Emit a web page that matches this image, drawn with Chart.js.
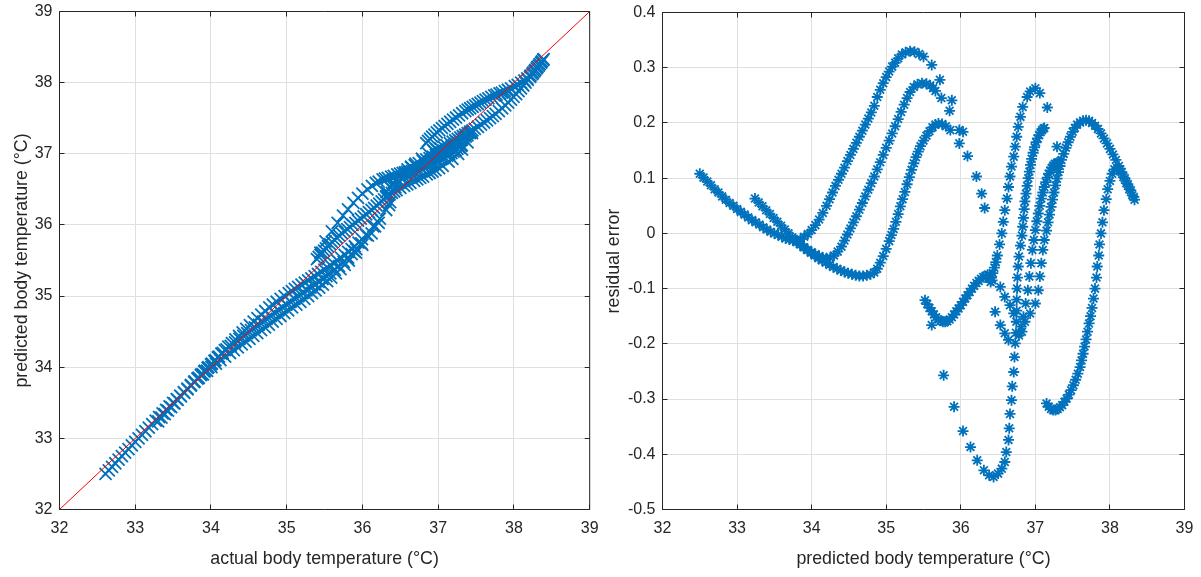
<!DOCTYPE html>
<html>
<head>
<meta charset="utf-8">
<title>body temperature model</title>
<script src="https://cdn.jsdelivr.net/npm/chart.js@4.4.1/dist/chart.umd.min.js"></script>
<style>
  body { margin: 0; background: #fff; }
  #wrap { position: relative; width: 1201px; height: 577px; }
  canvas { position: absolute; top: 0; display: block; }
  #fit { left: 0; }
  #resid { left: 600px; }
</style>
</head>
<body>
<div id="wrap">
  <canvas id="fit" width="600" height="577"></canvas>
  <canvas id="resid" width="601" height="577"></canvas>
</div>
<script>
// tick values for both panels
const tempTicks = [32, 33, 34, 35, 36, 37, 38, 39];
const residTicks = [-0.5, -0.4, -0.3, -0.2, -0.1, 0, 0.1, 0.2, 0.3, 0.4];
const idealLine = [32, 39];

// each run: predicted temperature and its residual (actual - predicted)
const aPred = [32.50,32.55,32.60,32.65,32.70,32.75,32.80,32.85,32.90,32.95,33.00,33.05,33.10,33.15,33.20,33.25,33.30,33.35,33.40,33.45,33.50,33.55,33.60,33.65,33.70,33.75,33.80,33.85,33.90,33.95,34.00,34.05,34.10,34.15,34.20,34.25,34.30,34.35,34.40,34.44,34.48,34.52,34.56,34.60,34.64,34.68,34.72,34.76,34.80,34.84,34.88,34.92,34.96,35.00,35.04,35.08,35.12,35.16,35.20,35.24,35.28,35.32,35.37,35.42,35.48,35.54,35.59,35.63,35.66];
const aRes = [0.108,0.101,0.094,0.087,0.080,0.074,0.067,0.061,0.055,0.050,0.044,0.039,0.034,0.029,0.024,0.020,0.016,0.011,0.007,0.003,0.000,-0.003,-0.006,-0.009,-0.011,-0.013,-0.016,-0.020,-0.025,-0.030,-0.034,-0.038,-0.041,-0.044,-0.045,-0.044,-0.040,-0.033,-0.024,-0.013,-0.002,0.009,0.020,0.031,0.043,0.055,0.067,0.079,0.091,0.103,0.116,0.129,0.142,0.155,0.168,0.181,0.194,0.207,0.220,0.233,0.245,0.256,0.265,0.270,0.272,0.271,0.268,0.263,0.258];

const bPred = [33.24,33.29,33.34,33.39,33.44,33.49,33.54,33.59,33.64,33.69,33.74,33.79,33.84,33.89,33.94,33.99,34.04,34.09,34.14,34.19,34.24,34.29,34.34,34.39,34.44,34.49,34.54,34.59,34.64,34.69,34.74,34.79,34.84,34.88,34.92,34.96,35.00,35.04,35.07,35.10,35.13,35.16,35.19,35.22,35.25,35.28,35.31,35.34,35.37,35.40,35.43,35.46,35.50,35.54,35.58,35.62,35.66,35.70,35.75,35.80,35.86];
const bRes = [0.063,0.056,0.049,0.042,0.035,0.028,0.021,0.014,0.007,0.000,-0.007,-0.013,-0.019,-0.025,-0.030,-0.035,-0.040,-0.045,-0.049,-0.053,-0.057,-0.061,-0.064,-0.067,-0.070,-0.072,-0.074,-0.076,-0.077,-0.077,-0.076,-0.074,-0.071,-0.064,-0.053,-0.041,-0.028,-0.014,-0.003,0.008,0.021,0.035,0.049,0.062,0.075,0.089,0.102,0.115,0.127,0.138,0.148,0.158,0.168,0.177,0.185,0.192,0.197,0.199,0.198,0.194,0.187];

const cPred = [33.85,33.90,33.95,34.00,34.05,34.10,34.15,34.20,34.24,34.28,34.32,34.36,34.40,34.44,34.48,34.52,34.56,34.60,34.64,34.68,34.72,34.76,34.80,34.84,34.88,34.92,34.96,35.00,35.04,35.08,35.12,35.16,35.21,35.26,35.32,35.38,35.44,35.50];
const cRes = [-0.010,-0.006,-0.001,0.006,0.015,0.025,0.037,0.050,0.062,0.074,0.086,0.097,0.108,0.119,0.131,0.142,0.153,0.164,0.175,0.186,0.197,0.208,0.219,0.231,0.247,0.260,0.272,0.283,0.293,0.302,0.309,0.317,0.324,0.328,0.330,0.329,0.325,0.320];

// fast fall after the warm peaks
const tailPred = [35.61,35.72,35.74,35.88,35.85,35.98,36.03,35.98,36.09,36.21,36.28,36.32];
const tailRes = [0.305,0.278,0.245,0.241,0.222,0.187,0.184,0.163,0.140,0.103,0.072,0.046];

const sPred = [35.52,35.55,35.58,35.61,35.64,35.67,35.70,35.73,35.76,35.79,35.82,35.85,35.88,35.91,35.94,35.97,36.00,36.03,36.06,36.09,36.12,36.15,36.18,36.21,36.24,36.27,36.30,36.33,36.36,36.39,36.41,36.42,36.40,36.43,36.45,36.47,36.49,36.52,36.55,36.57,36.59,36.62,36.64,36.66,36.68,36.71,36.73,36.75,36.77,36.80,36.83,36.89,36.93,37.00,37.06,37.16];
const sRes = [-0.121,-0.128,-0.135,-0.141,-0.147,-0.152,-0.156,-0.158,-0.160,-0.160,-0.159,-0.156,-0.152,-0.147,-0.141,-0.136,-0.130,-0.124,-0.118,-0.112,-0.106,-0.100,-0.095,-0.090,-0.086,-0.082,-0.079,-0.077,-0.075,-0.076,-0.080,-0.085,-0.088,-0.072,-0.062,-0.052,-0.040,-0.020,0.000,0.021,0.042,0.063,0.084,0.103,0.121,0.139,0.157,0.175,0.193,0.211,0.229,0.247,0.257,0.263,0.254,0.228];

const ePred = [35.61,35.77,35.91,36.03,36.13,36.22,36.31,36.38,36.44,36.50,36.55,36.59,36.61,36.64,36.65,36.66,36.68,36.69,36.71,36.72,36.73,36.74,36.745,36.75,36.75,36.755,36.76,36.77,36.78,36.80,36.82,36.83,36.84,36.85,36.86,36.875,36.89,36.905,36.92,36.935,36.95,36.97,36.99,37.01,37.03,37.05,37.07,37.09,37.11,37.12];
const eRes = [-0.166,-0.257,-0.314,-0.358,-0.387,-0.411,-0.429,-0.438,-0.441,-0.435,-0.426,-0.414,-0.396,-0.374,-0.353,-0.327,-0.302,-0.277,-0.251,-0.224,-0.199,-0.180,-0.160,-0.140,-0.120,-0.100,-0.080,-0.060,-0.042,-0.022,-0.004,0.012,0.028,0.044,0.058,0.072,0.086,0.100,0.112,0.124,0.135,0.146,0.156,0.165,0.172,0.178,0.183,0.187,0.190,0.191];

const strayPred = [36.46,36.53,36.59,36.64,36.53,36.59,36.66,36.71,37.29];
const strayRes = [-0.142,-0.166,-0.181,-0.193,-0.097,-0.115,-0.130,-0.145,0.157];

const gPred = [36.78,36.81,36.84,36.87,36.90,36.92,36.94,36.96,36.98,37.00,37.02,37.04,37.06,37.08,37.10,37.12,37.14,37.16,37.18,37.20,37.22,37.24,37.26,37.29,37.31];
const gRes = [-0.185,-0.169,-0.151,-0.127,-0.103,-0.078,-0.054,-0.030,-0.012,0.006,0.022,0.036,0.050,0.063,0.074,0.084,0.093,0.101,0.108,0.114,0.119,0.123,0.126,0.128,0.129];

const hPred = [36.82,36.86,36.93,37.00,37.04,37.06,37.08,37.10,37.12,37.15,37.17,37.19,37.21,37.23,37.25,37.27,37.29,37.31,37.33,37.35,37.38,37.41,37.44,37.47,37.50,37.53,37.56,37.60,37.64,37.68,37.72,37.76,37.80,37.84,37.88,37.92,37.96,38.00,38.04,38.08,38.12,38.16,38.20,38.24,38.28,38.32];
const hRes = [-0.178,-0.160,-0.145,-0.127,-0.103,-0.078,-0.054,-0.030,-0.012,0.005,0.020,0.034,0.048,0.061,0.074,0.087,0.099,0.111,0.122,0.133,0.144,0.155,0.165,0.175,0.184,0.191,0.197,0.201,0.204,0.205,0.204,0.200,0.195,0.189,0.181,0.172,0.163,0.153,0.143,0.133,0.122,0.111,0.100,0.089,0.078,0.066];

const iPred = [37.15,37.18,37.21,37.24,37.27,37.30,37.33,37.36,37.39,37.42,37.45,37.48,37.51,37.54,37.57,37.60,37.62,37.64,37.66,37.68,37.70,37.72,37.74,37.76,37.78,37.80,37.82,37.83,37.85,37.86,37.88,37.90,37.92,37.95,37.97,38.00,38.03,38.06,38.10,38.14,38.18,38.22,38.26,38.30,38.33];
const iRes = [-0.308,-0.314,-0.318,-0.320,-0.320,-0.318,-0.315,-0.311,-0.305,-0.299,-0.292,-0.284,-0.275,-0.265,-0.254,-0.242,-0.230,-0.218,-0.205,-0.192,-0.178,-0.163,-0.150,-0.135,-0.118,-0.100,-0.080,-0.060,-0.040,-0.020,0.000,0.020,0.042,0.062,0.080,0.095,0.108,0.116,0.118,0.112,0.102,0.091,0.080,0.069,0.061];

const runs = [
  [aPred, aRes], [bPred, bRes], [cPred, cRes], [tailPred, tailRes],
  [sPred, sRes], [ePred, eRes], [strayPred, strayRes],
  [gPred, gRes], [hPred, hRes], [iPred, iRes]
];

const BLUE = '#0072BD';
const AXIS = '#262626';
const GRID = '#dfdfdf';

Chart.defaults.font.family = "'Liberation Sans', Arial, Helvetica, sans-serif";
Chart.defaults.font.size = 16;
Chart.defaults.color = AXIS;
Chart.defaults.animation = false;

const residPoints = runs.flatMap(([p, r]) => p.map((v, i) => ({ x: v, y: r[i] })));
// actual = predicted + residual
const fitPoints = runs.flatMap(([p, r]) => p.map((v, i) => ({ x: v + r[i], y: v })));

// matlab style box with inward ticks on all four sides
const frame = {
  id: 'frame',
  afterDatasetsDraw(chart) {
    const { ctx, chartArea: a, scales: { x, y } } = chart;
    const len = 5;
    ctx.save();
    ctx.strokeStyle = AXIS;
    ctx.lineWidth = 1;
    ctx.beginPath();
    ctx.rect(a.left, a.top, a.right - a.left, a.bottom - a.top);
    x.ticks.forEach(t => {
      const px = Math.floor(x.getPixelForValue(t.value)) + 0.5;
      ctx.moveTo(px, a.bottom); ctx.lineTo(px, a.bottom - len);
      ctx.moveTo(px, a.top); ctx.lineTo(px, a.top + len);
    });
    y.ticks.forEach(t => {
      const py = Math.floor(y.getPixelForValue(t.value)) + 0.5;
      ctx.moveTo(a.left, py); ctx.lineTo(a.left + len, py);
      ctx.moveTo(a.right, py); ctx.lineTo(a.right - len, py);
    });
    ctx.stroke();
    ctx.restore();
  }
};

function xAxis(label, values) {
  return {
    type: 'linear', min: values[0], max: values[values.length - 1],
    afterBuildTicks: s => { s.ticks = values.map(value => ({ value })); },
    afterFit: s => { s.height = 67.5; s.paddingLeft = 0; s.paddingRight = 0; },
    grid: { color: GRID, drawTicks: false },
    border: { display: false },
    ticks: { padding: 9, maxRotation: 0, autoSkip: false, callback: v => String(v) },
    title: { display: true, text: label, font: { size: 17.8 }, padding: { top: 0, bottom: 7 } }
  };
}

function yAxis(label, values, width, titlePad, fmt) {
  return {
    type: 'linear', min: values[0], max: values[values.length - 1],
    afterBuildTicks: s => { s.ticks = values.map(value => ({ value })); },
    afterFit: s => { s.width = width; s.paddingTop = 0; s.paddingBottom = 0; },
    grid: { color: GRID, drawTicks: false },
    border: { display: false },
    ticks: { padding: 7, autoSkip: false, callback: fmt },
    title: { display: true, text: label, font: { size: 17.8 }, padding: { top: titlePad, bottom: 0 } }
  };
}

new Chart(document.getElementById('fit'), {
  type: 'scatter',
  data: {
    datasets: [
      {
        data: idealLine.map(v => ({ x: v, y: v })),
        showLine: true,
        borderColor: '#ff0000',
        borderWidth: 1,
        pointRadius: 0
      },
      {
        data: fitPoints,
        pointStyle: 'crossRot',
        pointRadius: 8.5,
        pointBorderWidth: 1.8,
        borderColor: BLUE,
        backgroundColor: BLUE
      }
    ]
  },
  options: {
    responsive: false,
    events: [],
    layout: { padding: { left: 0, right: 9.5, top: 11.5, bottom: 0 } },
    plugins: { legend: { display: false }, tooltip: { enabled: false } },
    scales: {
      x: xAxis('actual body temperature (°C)', tempTicks),
      y: yAxis('predicted body temperature (°C)', tempTicks, 59.5, 11.5, v => String(v))
    }
  },
  plugins: [frame]
});

new Chart(document.getElementById('resid'), {
  type: 'scatter',
  data: {
    datasets: [
      {
        data: residPoints,
        pointStyle: 'star',
        pointRadius: 5.5,
        pointBorderWidth: 1.8,
        borderColor: BLUE,
        backgroundColor: BLUE
      }
    ]
  },
  options: {
    responsive: false,
    events: [],
    layout: { padding: { left: 0, right: 16.5, top: 12.5, bottom: 0 } },
    plugins: { legend: { display: false }, tooltip: { enabled: false } },
    scales: {
      x: xAxis('predicted body temperature (°C)', tempTicks),
      y: yAxis('residual error', residTicks, 62.5, 3.5, v => (v === 0 ? '0' : v.toFixed(1)))
    }
  },
  plugins: [frame]
});
</script>
</body>
</html>
